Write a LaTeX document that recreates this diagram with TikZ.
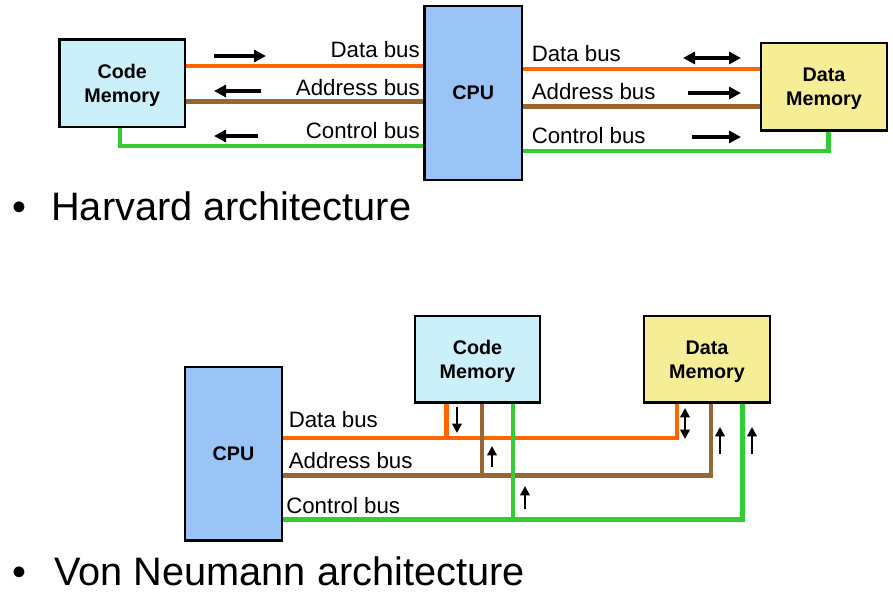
\documentclass[tikz,border=0pt]{standalone}
\usepackage{fontspec}
\setmainfont{Liberation Sans}
\usetikzlibrary{arrows.meta}
\definecolor{cmfill}{RGB}{204,240,250}
\definecolor{cpufill}{RGB}{153,196,245}
\definecolor{dmfill}{RGB}{245,238,150}
\definecolor{busorange}{RGB}{255,102,0}
\definecolor{busbrown}{RGB}{153,102,51}
\definecolor{busgreen}{RGB}{51,204,51}
\begin{document}
\begin{tikzpicture}[x=0.75pt,y=-0.75pt,
  box/.style={draw=black,line width=1.9pt,align=center,inner sep=0pt,text depth=0pt,
    font=\bfseries\fontsize{14.8}{18}\selectfont},
  cmbox/.style={box,fill=cmfill,minimum width=94pt,minimum height=65.5pt},
  dmbox/.style={box,fill=dmfill,minimum width=94.5pt,minimum height=65.5pt},
  cpubox/.style={box,fill=cpufill,minimum width=73pt,minimum height=130.3pt},
  lbl/.style={inner sep=0pt,font=\fontsize{16.7}{20}\selectfont},
  bigtxt/.style={inner sep=0pt,anchor=base west,font=\fontsize{29.8}{35}\selectfont},
  bus/.style={line width=3.5pt},
  obus/.style={bus,draw=busorange},
  bbus/.style={bus,draw=busbrown},
  gbus/.style={bus,draw=busgreen},
  dirarrow/.style={line width=2.5pt,-{Triangle[length=9pt,width=9pt]}},
  dirboth/.style={line width=2.5pt,{Triangle[length=9pt,width=9pt]}-{Triangle[length=9pt,width=9pt]}},
  smallarrow/.style={line width=2pt,-{Triangle[length=7pt,width=7pt]}},
  smallboth/.style={line width=2pt,{Triangle[length=7pt,width=7pt]}-{Triangle[length=7pt,width=7pt]}}
]
\useasboundingbox (0,0) rectangle (893,595);

% ---------------- Harvard ----------------
\node[cmbox] (cm1) at (122.25,83.25) {Code\\Memory};
\node[cpubox,minimum height=130.5pt] (cpu1) at (473.25,93) {CPU};
\node[dmbox] (dm1) at (824,86.75) {Data\\Memory};

\draw[obus] (cm1.east |- 0,66) -- (cpu1.west |- 0,66);
\draw[bbus] (cm1.east |- 0,101.5) -- (cpu1.west |- 0,101.5);
\draw[gbus] (cm1.south -| 120,0) |- (cpu1.west |- 0,146);

\draw[obus] (cpu1.east |- 0,69) -- (dm1.west |- 0,69);
\draw[bbus] (cpu1.east |- 0,106.5) -- (dm1.west |- 0,106.5);
\draw[gbus] (cpu1.east |- 0,151) -| (dm1.south -| 828.5,0);

\node[lbl,anchor=base east] (l1) at (420,58) {Data bus};
\node[lbl,anchor=base east] (l2) at (420,96) {Address bus};
\node[lbl,anchor=base east] (l3) at (420,139) {Control bus};
\node[lbl,anchor=base west] (l4) at (531.5,62) {Data bus};
\node[lbl,anchor=base west] (l5) at (531.5,100) {Address bus};
\node[lbl,anchor=base west] (l6) at (531.5,144) {Control bus};

\draw[dirarrow] (214,56) -- (266,56);
\draw[dirarrow] (261,91) -- (214,91);
\draw[dirarrow] (258,136) -- (214,136);
\draw[dirboth] (683,58) -- (741,58);
\draw[dirarrow] (688,93) -- (741,93);
\draw[dirarrow] (692,137) -- (741,137);

\node[bigtxt] (b1) at (12,221) {•};
\node[bigtxt] (t1) at (51,221) {Harvard architecture};

% ---------------- Von Neumann ----------------
\node[cpubox] (cpu2) at (233.5,453.75) {CPU};
\node[cmbox,minimum height=64.9pt,minimum width=93.75pt] (cm2) at (477.5,359.25) {Code\\Memory};
\node[dmbox,minimum height=64.9pt] (dm2) at (707,359.25) {Data\\Memory};

\draw[obus] (cpu2.east |- 0,438) -| (dm2.south -| 677,0);
\draw[obus] (cm2.south -| 446.5,0) |- (cpu2.east |- 0,438);
\draw[bbus] (cpu2.east |- 0,475.5) -| (dm2.south -| 711,0);
\draw[bbus] (cm2.south -| 482,0) |- (cpu2.east |- 0,475.5);
\draw[gbus] (cpu2.east |- 0,519.5) -| (dm2.south -| 742.5,0);
\draw[gbus] (cm2.south -| 513,0) |- (cpu2.east |- 0,519.5);

\node[lbl,anchor=base west] (l7) at (288.5,427) {Data bus};
\node[lbl,anchor=base west] (l8) at (288.5,469) {Address bus};
\node[lbl,anchor=base west] (l9) at (286,513) {Control bus};

\draw[smallarrow] (457,407) -- (457,433);
\draw[smallarrow] (492,467) -- (492,446);
\draw[smallarrow] (525,509) -- (525,486);
\draw[smallboth] (685,408) -- (685,439);
\draw[smallarrow] (720,454) -- (720,427);
\draw[smallarrow] (752,454) -- (752,427);

\node[bigtxt] (b2) at (12,585) {•};
\node[bigtxt] (t2) at (54,585) {Von Neumann architecture};
\end{tikzpicture}
\end{document}
